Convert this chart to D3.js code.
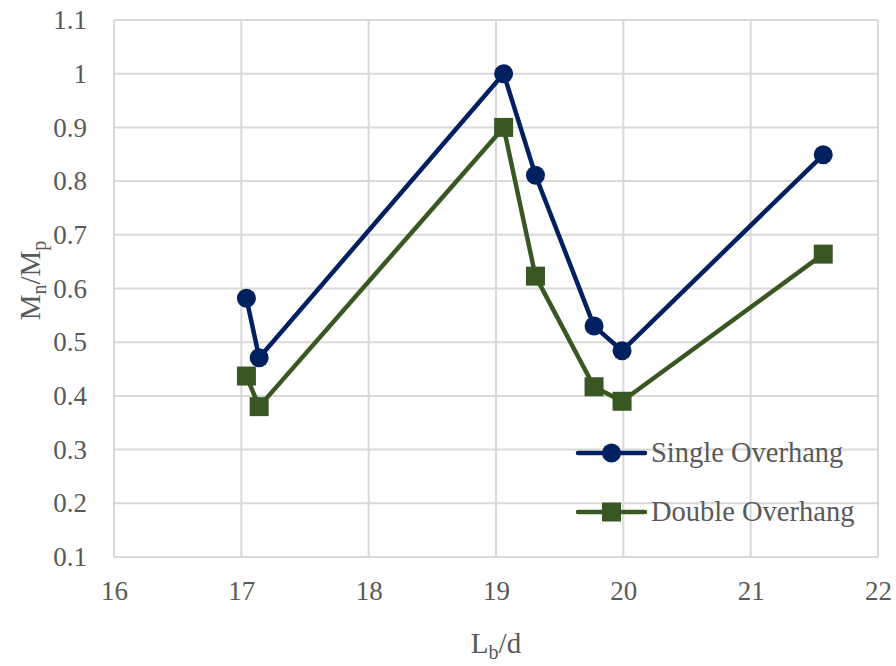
<!DOCTYPE html>
<html>
<head>
<meta charset="utf-8">
<script src="https://cdn.jsdelivr.net/npm/d3@7"></script>
<style>
  html, body { margin: 0; padding: 0; background: #fff; }
  svg { display: block; font-family: "Liberation Serif", Tinos, "Times New Roman", Times, "DejaVu Serif", serif; }
</style>
</head>
<body>
<svg id="chart" width="896" height="666"></svg>
<script>
// Unbraced length ratio Lb/d for each tested specimen
const lbd = [17.04, 17.14, 19.06, 19.31, 19.77, 19.99, 21.57];
// Normalised moment capacity Mn/Mp
const singleOverhang = [0.582, 0.471, 1.0, 0.811, 0.530, 0.484, 0.849];
const doubleOverhang = [0.437, 0.380, 0.900, 0.623, 0.417, 0.390, 0.664];
// Axis ticks
const xTicks = [16, 17, 18, 19, 20, 21, 22];
const yTicks = [0.1, 0.2, 0.3, 0.4, 0.5, 0.6, 0.7, 0.8, 0.9, 1.0, 1.1];

const FONT = '"Liberation Serif", Tinos, "Times New Roman", Times, "DejaVu Serif", serif';

const svg = d3.select("#chart");
const margin = { left: 114, right: 18, top: 20, bottom: 109 };
const W = 896, H = 666;

const x = d3.scaleLinear().domain([16, 22]).range([margin.left, W - margin.right]);
const y = d3.scaleLinear().domain([0.1, 1.1]).range([H - margin.bottom, margin.top]);

const gridColor = "#d9d9d9";
const textColor = "#595959";

// Grid lines (including the outer frame)
svg.append("g").selectAll("line").data(xTicks).join("line")
  .attr("x1", d => x(d)).attr("x2", d => x(d))
  .attr("y1", y(0.1)).attr("y2", y(1.1))
  .attr("stroke", gridColor).attr("stroke-width", 2);
svg.append("g").selectAll("line").data(yTicks).join("line")
  .attr("x1", x(16)).attr("x2", x(22))
  .attr("y1", d => y(d)).attr("y2", d => y(d))
  .attr("stroke", gridColor).attr("stroke-width", 2);

// Tick labels via axes with hidden lines
const fmt = d => (d === 1 ? "1" : d3.format(".1f")(d));
const xAxis = svg.append("g")
  .attr("transform", `translate(0,${y(0.1)})`)
  .call(d3.axisBottom(x).tickValues(xTicks).tickSize(0).tickPadding(24).tickFormat(d3.format("d")));
const yAxis = svg.append("g")
  .attr("transform", `translate(${x(16)},0)`)
  .call(d3.axisLeft(y).tickValues(yTicks).tickSize(0).tickPadding(27).tickFormat(fmt));
[xAxis, yAxis].forEach(g => {
  g.attr("font-family", null);
  g.select(".domain").remove();
  g.selectAll("text")
    .attr("fill", textColor)
    .style("font-family", FONT)
    .style("font-size", "27px");
});
xAxis.selectAll("text").attr("dy", "0.71em");

// Series
const series = [
  { name: "Single Overhang", values: singleOverhang, color: "#002060", marker: "circle" },
  { name: "Double Overhang", values: doubleOverhang, color: "#385723", marker: "square" }
];

const line = d3.line().x(d => x(d[0])).y(d => y(d[1]));

function drawMarker(g, type, cx, cy, color) {
  if (type === "circle") {
    g.append("circle").attr("cx", cx).attr("cy", cy).attr("r", 9.5).attr("fill", color);
  } else {
    g.append("rect").attr("x", cx - 9.5).attr("y", cy - 9.5)
      .attr("width", 19).attr("height", 19).attr("fill", color);
  }
}

series.forEach(s => {
  const pts = lbd.map((v, i) => [v, s.values[i]]);
  const g = svg.append("g");
  g.append("path").datum(pts).attr("d", line)
    .attr("fill", "none").attr("stroke", s.color)
    .attr("stroke-width", 4.5).attr("stroke-linejoin", "round");
  pts.forEach(p => drawMarker(g, s.marker, x(p[0]), y(p[1]), s.color));
});

// Legend
const legend = svg.append("g");
series.forEach((s, i) => {
  const ly = 453 + i * 59;
  const lg = legend.append("g");
  lg.append("line").attr("x1", 578).attr("x2", 645).attr("y1", ly).attr("y2", ly)
    .attr("stroke", s.color).attr("stroke-width", 4.5).attr("stroke-linecap", "round");
  drawMarker(lg, s.marker, 611.5, ly, s.color);
  lg.append("text").attr("x", 651).attr("y", ly).attr("dy", "0.33em")
    .attr("fill", textColor).style("font-family", FONT).style("font-size", "28.5px").text(s.name);
});

// Axis titles
const xt = svg.append("text")
  .attr("x", (x(16) + x(22)) / 2).attr("y", 653)
  .attr("text-anchor", "middle").attr("fill", textColor)
  .style("font-family", FONT).style("font-size", "29px");
xt.append("tspan").text("L");
xt.append("tspan").attr("dy", 6).style("font-size", "20px").text("b");
xt.append("tspan").attr("dy", -6).text("/d");

const yt = svg.append("text")
  .attr("transform", `translate(40,${(y(0.1) + y(1.1)) / 2 - 8}) rotate(-90)`)
  .attr("text-anchor", "middle").attr("fill", textColor)
  .style("font-family", FONT).style("font-size", "29px");
yt.append("tspan").text("M");
yt.append("tspan").attr("dy", 6).style("font-size", "20px").text("n");
yt.append("tspan").attr("dy", -6).text("/M");
yt.append("tspan").attr("dy", 6).style("font-size", "20px").text("p");
</script>
</body>
</html>
